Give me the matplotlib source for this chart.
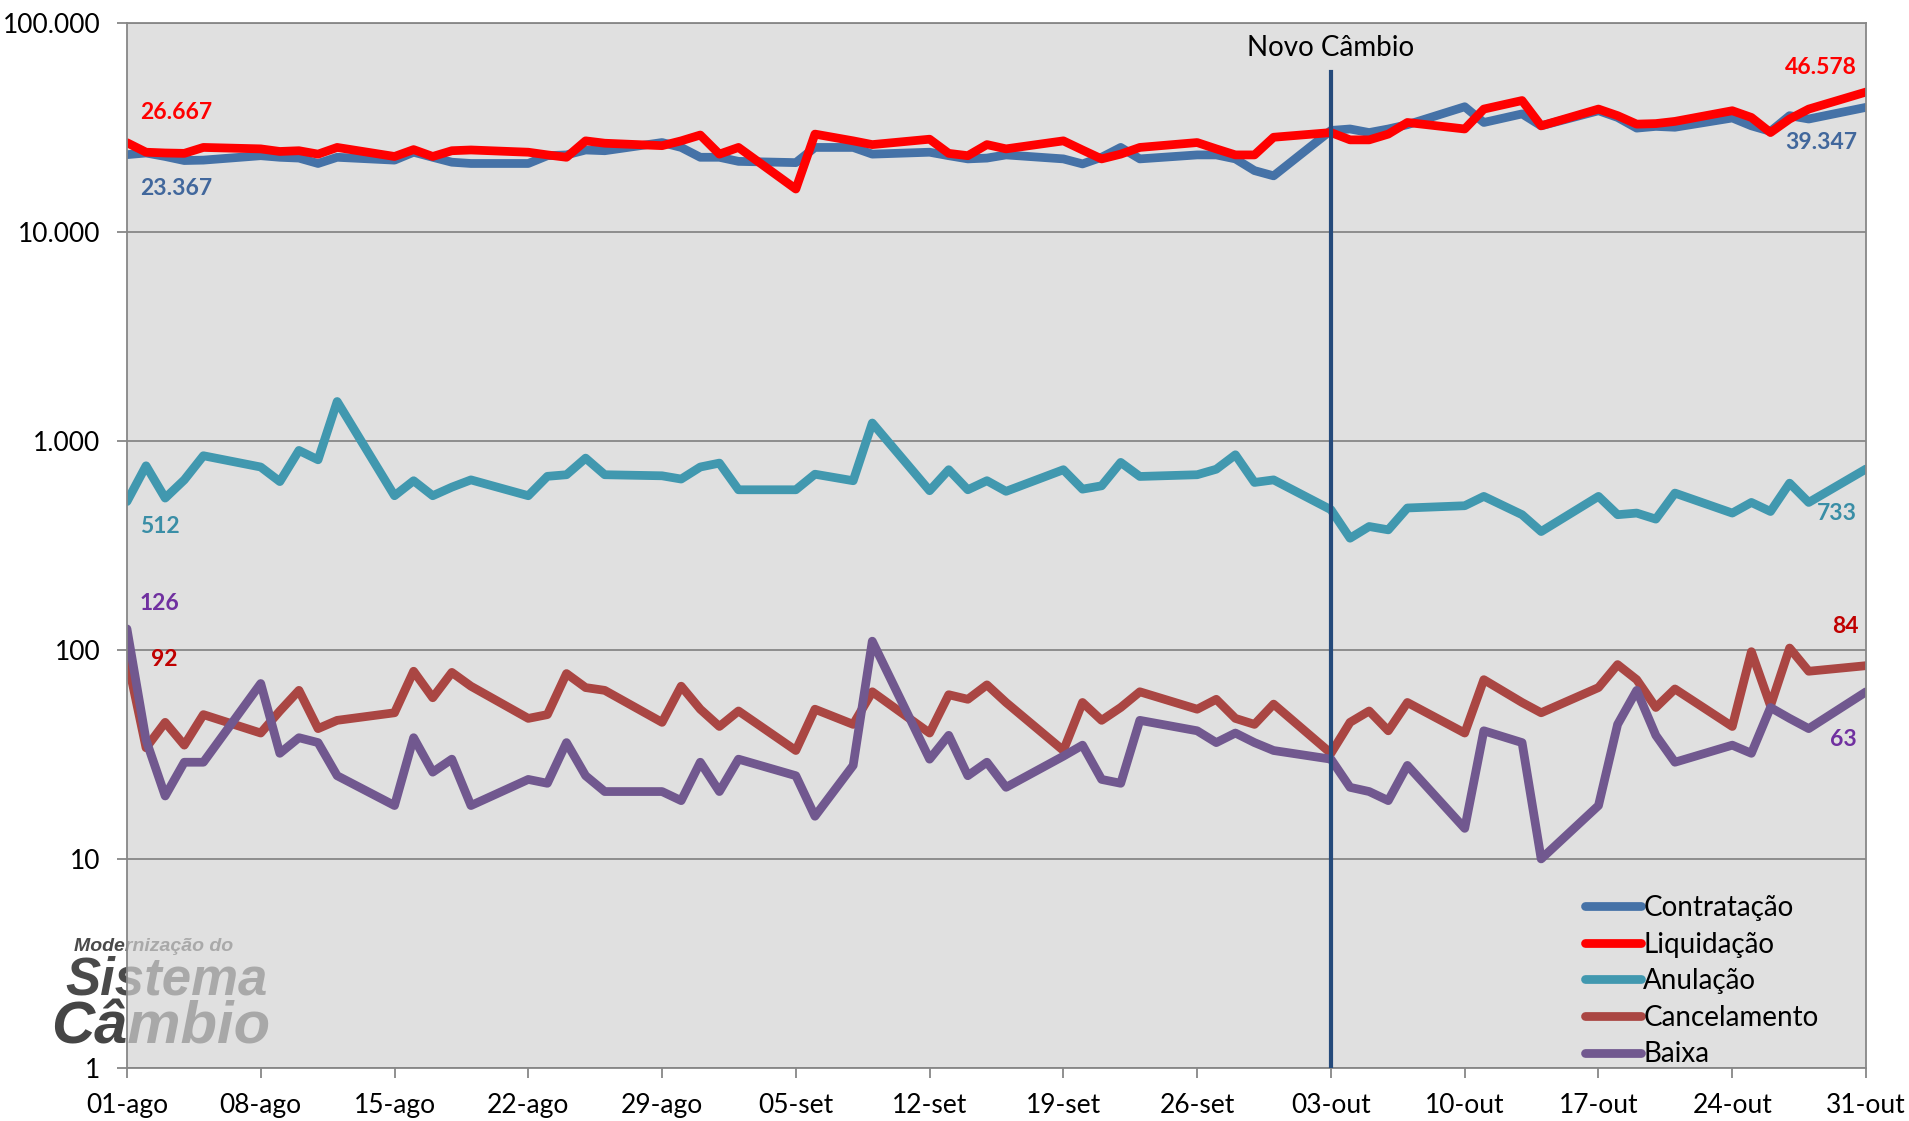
import pandas as pd
import matplotlib.pyplot as plt
from matplotlib.ticker import NullLocator

plt.rcParams['font.family'] = ['Lato', 'DejaVu Sans']

# dias uteis (ago-out 2011)
dias = [
    "2011-08-01", "2011-08-02", "2011-08-03", "2011-08-04", "2011-08-05",
    "2011-08-08", "2011-08-09", "2011-08-10", "2011-08-11", "2011-08-12",
    "2011-08-15", "2011-08-16", "2011-08-17", "2011-08-18", "2011-08-19",
    "2011-08-22", "2011-08-23", "2011-08-24", "2011-08-25", "2011-08-26",
    "2011-08-29", "2011-08-30", "2011-08-31",
    "2011-09-01", "2011-09-02", "2011-09-05", "2011-09-06", "2011-09-08",
    "2011-09-09", "2011-09-12", "2011-09-13", "2011-09-14", "2011-09-15",
    "2011-09-16", "2011-09-19", "2011-09-20", "2011-09-21", "2011-09-22",
    "2011-09-23", "2011-09-26", "2011-09-27", "2011-09-28", "2011-09-29",
    "2011-09-30",
    "2011-10-03", "2011-10-04", "2011-10-05", "2011-10-06", "2011-10-07",
    "2011-10-10", "2011-10-11", "2011-10-13", "2011-10-14", "2011-10-17",
    "2011-10-18", "2011-10-19", "2011-10-20", "2011-10-21", "2011-10-24",
    "2011-10-25", "2011-10-26", "2011-10-27", "2011-10-28", "2011-10-31",
]

contratacao = [23367, 23800, 22900, 21900, 22000, 23100, 22700, 22500, 21200, 22700,
               22000, 24000, 22700, 21500, 21200, 21200, 23100, 23300, 24600, 24400,
               26700, 25300, 22700,
               22700, 21700, 21400, 25300, 25300, 23500, 24000, 23100, 22300, 22500,
               23300, 22300, 21100, 22700, 25300, 22300, 23300, 23300, 22300, 19600,
               18500,
               30500, 31000, 29800, 31000, 32500, 39600, 33300, 36600, 32100, 37900,
               35200, 31300, 31900, 31600, 35000, 32100, 30200, 35900, 34600, 39347]

liquidacao = [26667, 24000, 23800, 23700, 25300, 24900, 24200, 24400, 23500, 25300,
              22900, 24700, 22900, 24400, 24600, 24000, 23300, 22700, 27200, 26500,
              25800, 27200, 29000,
              23500, 25300, 16000, 29300, 27200, 26100, 27700, 23700, 23100, 26100,
              24900, 27200, 24600, 22300, 23500, 25300, 26700, 24900, 23300, 23300,
              28300,
              29800, 27500, 27500, 29300, 33300, 31000, 38600, 42400, 32100, 38600,
              35900, 32700, 32900, 33700, 37900, 35200, 29800, 34600, 38600, 46578]

anulacao = [512, 759, 532, 650, 848, 749, 638, 899, 811, 1541,
            546, 644, 546, 600, 650, 546, 676, 688, 826, 688,
            680, 656, 749,
            782, 583, 583, 692, 644, 1216, 577, 727, 583, 644,
            573, 727, 587, 609, 788, 675, 688, 731, 857, 632,
            650,
            468, 342, 389, 375, 477, 489, 542, 443, 368, 542,
            443, 451, 422, 562, 451, 507, 459, 627, 507, 733]

cancelamento = [92, 34, 45, 35, 49, 40, 51, 64, 42, 46,
                50, 79, 59, 78, 67, 47, 49, 77, 66, 64,
                45, 67, 52,
                43, 51, 33, 52, 44, 63, 40, 61, 58, 68,
                56, 33, 56, 46, 53, 63, 52, 58, 47, 44,
                55,
                32, 45, 51, 41, 56, 40, 72, 56, 50, 66,
                85, 72, 53, 65, 43, 98, 54, 102, 79, 84]

baixa = [126, 37, 20, 29, 29, 69, 32, 38, 36, 25,
         18, 38, 26, 30, 18, 24, 23, 36, 25, 21,
         21, 19, 29,
         21, 30, 25, 16, 28, 110, 30, 39, 25, 29,
         22, 31, 35, 24, 23, 46, 41, 36, 40, 36,
         33,
         30, 22, 21, 19, 28, 14, 41, 36, 10, 18,
         44, 64, 39, 29, 35, 32, 53, 47, 42, 63]

nomes = ["Contratação", "Liquidação", "Anulação", "Cancelamento", "Baixa"]
cores = ["#4572A7", "#FF0000", "#4198AF", "#AA4643", "#71588F"]
cores_rotulo = ["#41679C", "#FF0000", "#3A8EA6", "#C00000", "#7030A0"]

xtick_datas = ["2011-08-01", "2011-08-08", "2011-08-15", "2011-08-22", "2011-08-29",
               "2011-09-05", "2011-09-12", "2011-09-19", "2011-09-26", "2011-10-03",
               "2011-10-10", "2011-10-17", "2011-10-24", "2011-10-31"]
xtick_rotulos = ["01-ago", "08-ago", "15-ago", "22-ago", "29-ago", "05-set", "12-set",
                 "19-set", "26-set", "03-out", "10-out", "17-out", "24-out", "31-out"]
ytick_vals = [1, 10, 100, 1000, 10000, 100000]
ytick_rotulos = ["1", "10", "100", "1.000", "10.000", "100.000"]

marco_data = "2011-10-03"
marco_texto = "Novo Câmbio"

x = pd.to_datetime(dias)
todas = [contratacao, liquidacao, anulacao, cancelamento, baixa]

fig = plt.figure(figsize=(19.09, 11.21), dpi=100)
ax = fig.add_axes([0.0665, 0.0473, 0.9110, 0.9325])
ax.set_facecolor((0.827, 0.827, 0.827, 0.7))

# logo ao fundo
fig.text(0.039, 0.156, "Modernização do", fontsize=14, fontweight='bold', style='italic',
         family='Liberation Sans', color='#4a4a4a', va='center', zorder=-1)
fig.text(0.034, 0.125, "Sistema", fontsize=38, fontweight='bold', style='italic',
         family='Liberation Sans', color='#4a4a4a', va='center', zorder=-1)
fig.text(0.027, 0.083, "Câmbio", fontsize=43, fontweight='bold', style='italic',
         family='Liberation Sans', color='#454545', va='center', zorder=-1)

linhas = []
for nome, serie, cor in zip(nomes, todas, cores):
    l, = ax.plot(x, serie, color=cor, lw=6.3, label=nome,
                 solid_joinstyle='round', solid_capstyle='round')
    linhas.append(l)

ax.set_yscale('log')
ax.set_ylim(1, 100000)
ax.set_yticks(ytick_vals)
ax.set_yticklabels(ytick_rotulos)
ax.yaxis.set_minor_locator(NullLocator())
ax.set_xlim(pd.Timestamp(xtick_datas[0]), pd.Timestamp(xtick_datas[-1]))
ax.set_xticks(pd.to_datetime(xtick_datas))
ax.set_xticklabels(xtick_rotulos)

ax.grid(axis='y', color='#878787', lw=1.3)
ax.set_axisbelow(True)
for s in ax.spines.values():
    s.set_color('#878787')
    s.set_linewidth(1.3)
ax.tick_params(axis='both', colors='#878787', labelcolor='black', labelsize=19,
               length=7, width=1.3, direction='out')
ax.tick_params(axis='y', pad=12)
ax.tick_params(axis='x', pad=11)

# linha do novo cambio
mx = pd.Timestamp(marco_data)
ax.axvline(mx, ymin=0, ymax=0.953, color='#254A7B', lw=3, zorder=6)
ax.text(mx, 0.976, marco_texto, transform=ax.get_xaxis_transform(), ha='center',
        va='center', fontsize=20, color='black')

# rotulos de dados (primeiro e ultimo ponto)
rot_ini = [(9.4, -24.7), (9.4, 22), (9.4, -17.6), (17, -1.5), (9.4, 18)]
rot_fim = [(-6.5, -25), (-6.5, 18), (-6.5, -32), (-5, 28), (-6.5, -34)]
for i, serie in enumerate(todas):
    v0 = serie[0]
    v1 = serie[-1]
    t0 = f"{v0:,}".replace(",", ".")
    t1 = f"{v1:,}".replace(",", ".")
    ax.annotate(t0, xy=(x[0], v0), xytext=rot_ini[i], textcoords='offset points',
                ha='left', va='center', fontsize=16.5, fontweight='bold',
                color=cores_rotulo[i], zorder=7)
    ax.annotate(t1, xy=(x[-1], v1), xytext=rot_fim[i], textcoords='offset points',
                ha='right', va='center', fontsize=16.5, fontweight='bold',
                color=cores_rotulo[i], zorder=7)

leg = ax.legend(handles=linhas, loc='lower left', bbox_to_anchor=(0.832, -0.01),
                frameon=False, fontsize=20, handlelength=2.0, handletextpad=0.1,
                labelspacing=0.38, borderaxespad=0)

fig.savefig("out.png", dpi=100)
